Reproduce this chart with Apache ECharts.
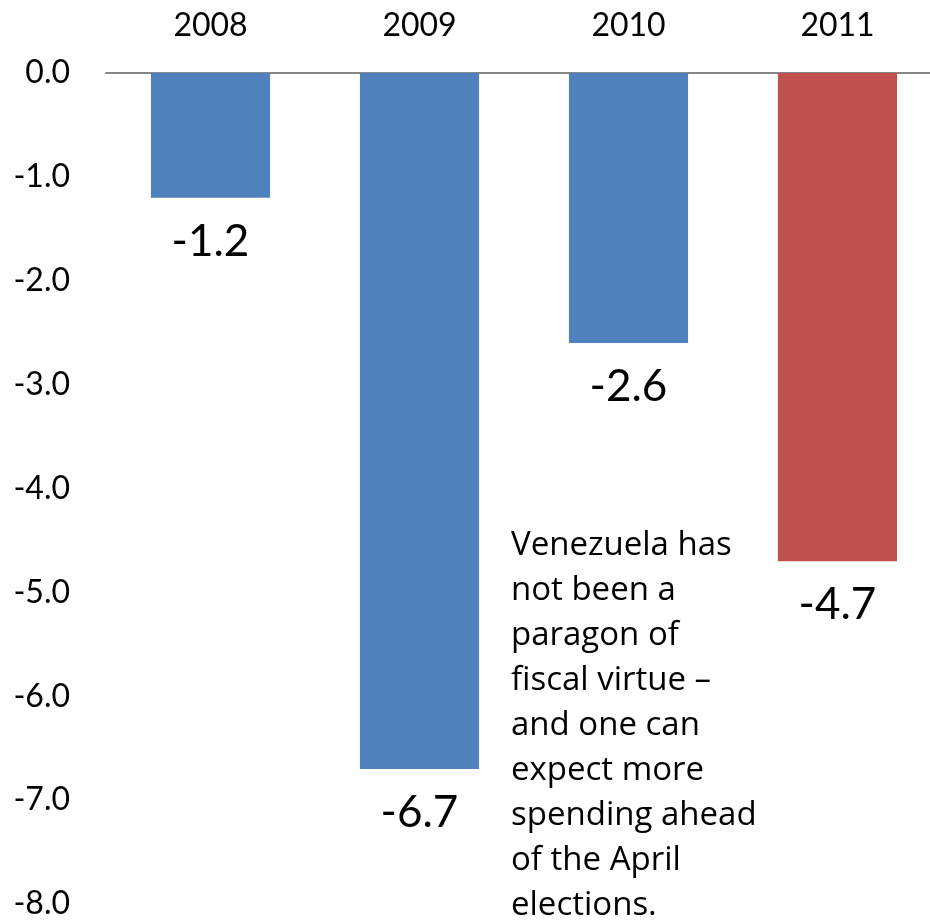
<!DOCTYPE html>
<html>
<head>
<meta charset="utf-8">
<script src="https://cdn.jsdelivr.net/npm/echarts@6/dist/echarts.min.js"></script>
<style>
  html, body { margin: 0; padding: 0; background: #fff; overflow: hidden; }
  #main { width: 950px; height: 920px; }
</style>
</head>
<body>
<div id="main"></div>
<script>
// data
var years = ["2008", "2009", "2010", "2011"];
var balance = [-1.2, -6.7, -2.6, -4.7];
var barColors = ["#4F81BD", "#4F81BD", "#4F81BD", "#C0504D"];
var noteLines = [
  "Venezuela has",
  "not been a",
  "paragon of",
  "fiscal virtue \u2013",
  "and one can",
  "expect more",
  "spending ahead",
  "of the April",
  "elections."
];

var myChart = echarts.init(document.getElementById("main"));
myChart.setOption({
  animation: false,
  textStyle: { fontFamily: "Lato" },
  grid: {
    left: 106,
    top: 73,
    width: 836,
    height: 837
  },
  xAxis: {
    type: "category",
    position: "top",
    data: years,
    axisTick: { show: false },
    axisLine: {
      show: true,
      onZero: false,
      lineStyle: { color: "#868686", width: 2 }
    },
    axisLabel: {
      color: "#000",
      fontSize: 32,
      margin: 31
    }
  },
  yAxis: {
    type: "value",
    min: -8,
    max: 0,
    interval: 1,
    axisLine: { show: false },
    axisTick: { show: false },
    splitLine: { show: false },
    axisLabel: {
      color: "#000",
      fontSize: 32,
      margin: 36,
      formatter: function (v) { return v.toFixed(1); }
    }
  },
  series: [
    {
      type: "bar",
      barWidth: "57%",
      data: balance.map(function (v, i) {
        return { value: v, itemStyle: { color: barColors[i] } };
      }),
      label: {
        show: true,
        position: "bottom",
        distance: 22,
        color: "#000",
        fontSize: 44,
        formatter: function (p) { return p.value.toFixed(1); }
      }
    }
  ],
  graphic: [
    {
      type: "text",
      left: 511,
      top: 523,
      style: {
        text: noteLines.join("\n"),
        fill: "#000",
        font: "33px 'Open Sans'",
        lineHeight: 45
      }
    }
  ]
});
</script>
</body>
</html>
